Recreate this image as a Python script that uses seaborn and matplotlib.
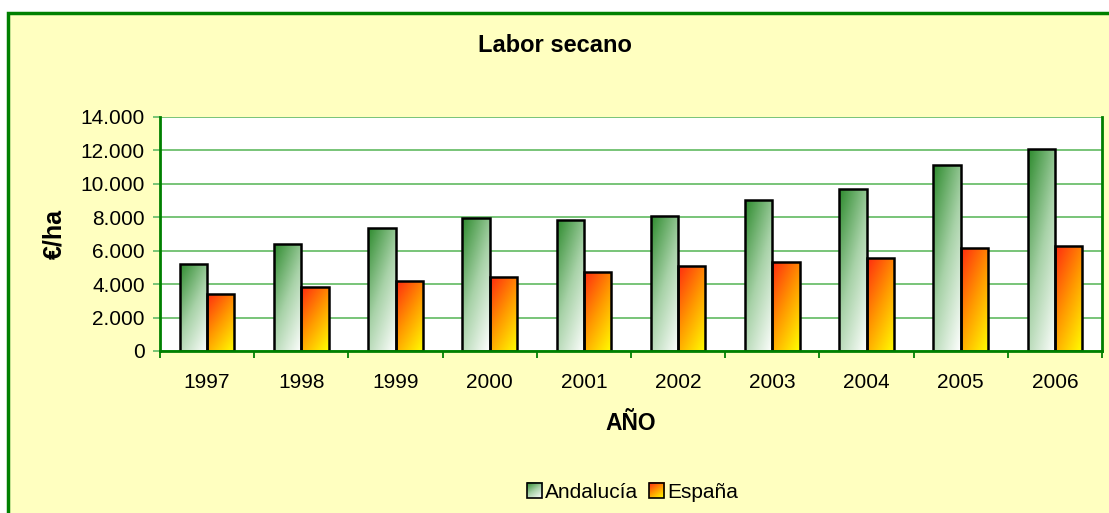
"""Labor secano: grouped bars Andalucía vs España, 1997-2006."""
import numpy as np
import pandas as pd
import matplotlib
matplotlib.use("Agg")
import matplotlib.pyplot as plt
import matplotlib.patches as mpatches
from matplotlib.colors import LinearSegmentedColormap
from matplotlib.ticker import FuncFormatter, FixedLocator
from matplotlib.legend_handler import HandlerBase
from matplotlib.image import BboxImage
from matplotlib.transforms import Bbox, TransformedBbox
import seaborn as sns

years = ["1997", "1998", "1999", "2000", "2001", "2002", "2003", "2004", "2005", "2006"]
andalucia = [5230, 6430, 7380, 7980, 7860, 8080, 9060, 9680, 11120, 12060]
espana = [3430, 3800, 4160, 4400, 4740, 5110, 5340, 5590, 6180, 6300]
series = ["Andalucía", "España"]

BG = "#FFFFC0"
GREEN = "#008000"
GRID = "#6DBF6D"

df = pd.DataFrame({
    "year": years * 2,
    "value": andalucia + espana,
    "serie": [series[0]] * len(years) + [series[1]] * len(years),
})

sns.set_theme(style="white")
plt.rcParams["font.family"] = ["Liberation Sans", "DejaVu Sans"]
plt.rcParams["text.color"] = "black"

cmaps = {
    "Andalucía": LinearSegmentedColormap.from_list("g", ["#2E8B2E", "#A8D2A8", "#FFFFFF"]),
    "España": LinearSegmentedColormap.from_list("o", ["#FF2A10", "#FF9A00", "#FFFF00"]),
}


def gradient(n=64):
    # diagonal gradient: 0 at top-left, 1 at bottom-right
    yy, xx = np.mgrid[0:1:n * 1j, 0:1:n * 1j]
    return 0.6 * yy + 0.4 * xx


fig = plt.figure(figsize=(11.09, 5.13), dpi=100, facecolor="white")
fig.patches.append(mpatches.Rectangle((8 / 1109, -0.01), 1.2, 1 - 13 / 513 + 0.01,
                                      transform=fig.transFigure, facecolor=BG,
                                      edgecolor=GREEN, linewidth=2.5, zorder=-10))
ax = fig.add_axes([160 / 1109, 1 - 351 / 513, (1102 - 160) / 1109, (351 - 117) / 513])
ax.set_facecolor("white")

sns.barplot(data=df, x="year", y="value", hue="serie", hue_order=series,
            width=0.58, gap=0, ax=ax, legend=False, saturation=1,
            palette=["#7FBF7F", "#FF9A00"], edgecolor="black", linewidth=1.8)

# paint gradients inside bars
grad = gradient()
for cont, name in zip(ax.containers, series):
    for bar in cont:
        x, w, h = bar.get_x(), bar.get_width(), bar.get_height()
        im = ax.imshow(grad, cmap=cmaps[name], extent=[x, x + w, 0, h],
                       origin="upper", aspect="auto", zorder=bar.get_zorder() - 0.1,
                       interpolation="bilinear")
        im.set_clip_path(bar)
        bar.set_facecolor("none")
ax.set_ylim(0, 14000)
ax.set_xlim(-0.5, len(years) - 0.5)

ax.yaxis.set_major_locator(FixedLocator(np.arange(0, 14001, 2000)))
ax.yaxis.set_major_formatter(FuncFormatter(lambda v, p: f"{int(v):,}".replace(",", ".")))
ax.grid(axis="y", color=GRID, linewidth=1.3)
ax.set_axisbelow(True)

ax.xaxis.set_minor_locator(FixedLocator(np.arange(-0.5, len(years), 1.0)))
ax.tick_params(axis="x", which="major", length=0, labelsize=15, pad=16, labelcolor="black")
ax.tick_params(axis="x", which="minor", length=5, width=1.3, color=GREEN, bottom=True)
ax.tick_params(axis="y", which="major", length=5, width=1.3, color=GRID, labelsize=15,
               pad=6, left=True, labelcolor="black")

for s in ["left", "bottom", "right"]:
    ax.spines[s].set_visible(True)
    ax.spines[s].set_color(GREEN)
    ax.spines[s].set_linewidth(2)
ax.spines["top"].set_visible(False)

ax.set_xlabel("AÑO", fontsize=16.5, fontweight="bold", labelpad=14, color="black")
ax.set_ylabel("€/ha", fontsize=18, fontweight="bold", labelpad=10, color="black")
fig.text(0.5, 1 - 45 / 513, "Labor secano", ha="center", va="center",
         fontsize=17, fontweight="bold", color="black")


class GradientHandler(HandlerBase):
    def __init__(self, cmap):
        super().__init__()
        self.cmap = cmap

    def create_artists(self, legend, orig_handle, xdescent, ydescent,
                       width, height, fontsize, trans):
        side = min(width, height)
        x0 = -xdescent + width - side
        y0 = -ydescent
        bb = TransformedBbox(Bbox.from_bounds(x0, y0, side, side), trans)
        img = BboxImage(bb, cmap=self.cmap, interpolation="bilinear")
        img.set_data(gradient(16))
        rect = mpatches.Rectangle((x0, y0), side, side, facecolor="none",
                                  edgecolor="black", linewidth=1.2, transform=trans)
        return [img, rect]


h1 = mpatches.Rectangle((0, 0), 1, 1)
h2 = mpatches.Rectangle((0, 0), 1, 1)
fig.legend([h1, h2], series, loc="center", bbox_to_anchor=(0.570, 1 - 492 / 513),
           ncol=2, frameon=False, fontsize=15, handlelength=0.75, handleheight=0.75,
           handletextpad=0.15, columnspacing=0.5,
           handler_map={h1: GradientHandler(cmaps["Andalucía"]),
                        h2: GradientHandler(cmaps["España"])})

fig.savefig("out.png", dpi=100, facecolor="white")
